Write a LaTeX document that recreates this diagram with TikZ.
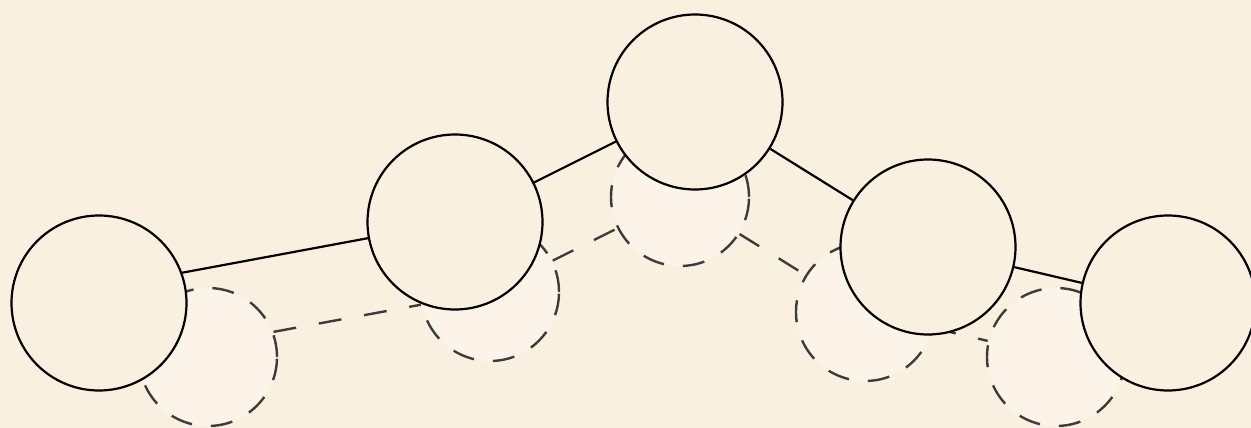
\documentclass[tikz,border=0pt]{standalone}
\definecolor{bg}{HTML}{F9F0DF}
\definecolor{ghostfill}{HTML}{FCF4E8}
\definecolor{ghostline}{HTML}{3C3C3C}
\tikzset{
  solidnode/.style={circle, draw=black, line width=2.2pt, fill=bg, minimum size=175pt, inner sep=0pt},
  ghostnode/.style={circle, draw=ghostline, line width=2.4pt, fill=ghostfill, minimum size=138pt, inner sep=0pt, dash pattern=on 22pt off 19pt},
  solidedge/.style={draw=black, line width=2.2pt},
  ghostedge/.style={draw=ghostline, line width=2.4pt, dash pattern=on 23pt off 23pt}
}
\begin{document}
\begin{tikzpicture}[x=1pt,y=-1pt]
\fill[bg] (0,0) rectangle (1251,428);
\useasboundingbox (0,0) rectangle (1251,428);
% ghost edges (beneath ghost circles)
\node[ghostnode] (ga) at (208,357) {};
\node[ghostnode] (gb) at (490,292) {};
\node[ghostnode] (gc) at (680,197) {};
\node[ghostnode] (gd) at (865,312) {};
\node[ghostnode] (ge) at (1056,357) {};
\path[ghostedge] (ga.21) -- (gb);
\path[ghostedge] (gb) -- (gc);
\path[ghostedge] (gc) -- (gd);
\path[ghostedge] (gd) -- (ge);
% solid nodes
\node[solidnode] (a) at (99,303) {};
\node[solidnode] (b) at (455,222) {};
\node[solidnode] (c) at (695,102) {};
\node[solidnode] (d) at (928,247) {};
\node[solidnode] (e) at (1168,303) {};
\path[solidedge] (a.20) -- (b);
\path[solidedge] (b) -- (c);
\path[solidedge] (c) -- (d);
\path[solidedge] (d) -- (e);
\end{tikzpicture}
\end{document}
